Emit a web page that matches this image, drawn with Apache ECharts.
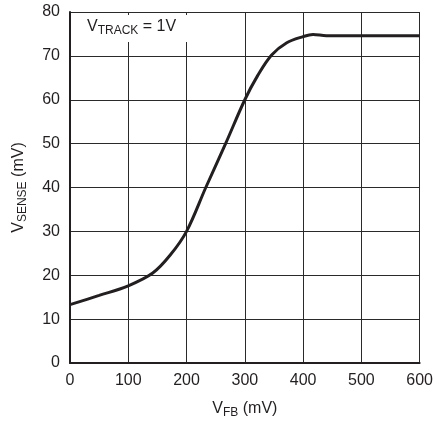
<!DOCTYPE html>
<html>
<head>
<meta charset="utf-8">
<script src="https://cdn.jsdelivr.net/npm/echarts@6/dist/echarts.min.js"></script>
<style>
  html, body { margin: 0; padding: 0; background: #fff; }
  #chart { width: 436px; height: 426px; }
</style>
</head>
<body>
<div id="chart"></div>
<script>
// V_FB (mV) vs V_SENSE (mV)
const vfb = [0, 50, 100, 142, 172, 200, 233, 267, 300, 322, 346, 372, 400, 417, 440, 500, 600]
const vsense = [13.3, 15.4, 17.6, 20.5, 24.6, 30, 40, 50, 60, 65.5, 70.2, 73, 74.4, 74.9, 74.6, 74.6, 74.6]

const font = '"Liberation Sans Narrow", "Liberation Sans", Arial, sans-serif'
const ink = '#231f20'

const mychart = echarts.init(document.getElementById('chart'))
const myoption = {
  animation: false,
  grid: { left: 70, right: 14, top: 12, bottom: 63 },
  xAxis: {
    type: 'value',
    min: 0,
    max: 600,
    interval: 100,
    name: '{v|V}{s|FB}{v| (mV)}',
    nameLocation: 'middle',
    nameGap: 36,
    nameTextStyle: {
      rich: {
        v: { fontFamily: font, fontSize: 16, color: ink },
        s: { fontFamily: font, fontSize: 12, color: ink, padding: [8, 0, 0, 0] }
      }
    },
    axisLine: { show: true, lineStyle: { color: ink, width: 2 } },
    axisTick: { show: false },
    splitLine: { show: true, lineStyle: { color: '#2a2a2a', width: 1 } },
    axisLabel: { fontFamily: font, fontSize: 16, color: ink, margin: 10 }
  },
  yAxis: {
    type: 'value',
    min: 0,
    max: 80,
    interval: 10,
    name: '{v|V}{s|SENSE}{v| (mV)}',
    nameLocation: 'middle',
    nameGap: 41,
    nameTextStyle: {
      rich: {
        v: { fontFamily: font, fontSize: 16, color: ink },
        s: { fontFamily: font, fontSize: 12, color: ink, padding: [8, 0, 0, 0] }
      }
    },
    axisLine: { show: true, lineStyle: { color: ink, width: 2 } },
    axisTick: { show: false },
    splitLine: { show: true, lineStyle: { color: '#2a2a2a', width: 1 } },
    axisLabel: { fontFamily: font, fontSize: 16, color: ink, margin: 10 }
  },
  graphic: [{
    type: 'rect',
    left: 73,
    top: 15,
    z: 100,
    shape: { width: 117, height: 27 },
    style: { fill: '#fff' }
  }, {
    type: 'text',
    left: 87,
    top: 19,
    z: 101,
    style: {
      text: '{v|V}{s|TRACK}{v| = 1V}',
      rich: {
        v: { fontFamily: font, fontSize: 16, fill: ink },
        s: { fontFamily: font, fontSize: 12, fill: ink, padding: [8, 0, 0, 0] }
      }
    }
  }],
  series: [{
    type: 'line',
    data: vfb.map((x, i) => [x, vsense[i]]),
    smooth: 0.35,
    symbol: 'none',
    lineStyle: { color: ink, width: 3 }
  }]
}
mychart.setOption(myoption)
</script>
</body>
</html>
